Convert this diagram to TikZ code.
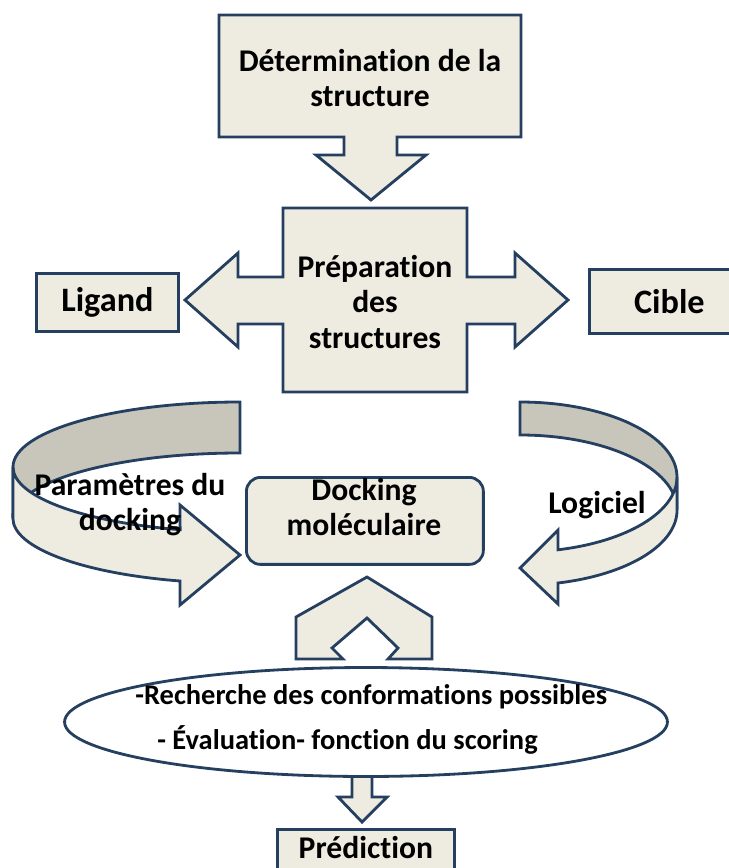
\documentclass[tikz,border=0pt]{standalone}
\usepackage{fontspec}
\setmainfont{Carlito}[Ligatures = NoCommon]
\usetikzlibrary{shapes.geometric}
\definecolor{boxfill}{RGB}{238,236,225}
\definecolor{boxline}{RGB}{36,63,96}
\definecolor{backfill}{RGB}{200,197,187}

\begin{document}
\begin{tikzpicture}[x = 0.02cm, y = 0.02cm,
    blk/.style = {draw = boxline, fill = boxfill, line width = 1.6pt},
    back/.style = {draw = boxline, fill = backfill, line width = 1.6pt},
    txt/.style = {font = \bfseries\fontsize{18}{20}\selectfont,
                  align = center, inner sep = 0pt},
    small/.style = {txt, font = \bfseries\fontsize{16.2}{19}\selectfont},
    boxnode/.style = {blk, font = \bfseries\fontsize{19.5}{21}\selectfont,
                      inner sep = 0pt, anchor = north west}]
  \useasboundingbox (0,0) rectangle (729,-868);

  % top box with its arrow
  \draw [blk] (219,-15) -- (521,-15) -- (521,-137) -- (397,-137)
    -- (397,-155) -- (426,-155) -- (371,-200) -- (316,-155) -- (344,-155)
    -- (344,-137) -- (219,-137) -- cycle;
  \node [txt] (determ) at (370,-78) {Détermination de la\\structure};

  % preparation, arrows to both sides
  \draw [blk] (283,-208) -- (467,-208) -- (467,-277) -- (515,-277)
    -- (515,-253) -- (568,-300) -- (515,-347) -- (515,-324) -- (467,-324)
    -- (467,-392) -- (283,-392) -- (283,-324) -- (238,-324) -- (238,-347)
    -- (185,-300) -- (238,-253) -- (238,-277) -- (283,-277) -- cycle;
  \node [txt] (prep) at (375,-302) {Préparation\\des\\structures};

  \node [boxnode, minimum width = 2.84cm, minimum height = 1.16cm]
    (ligand) at (35,-272) {Ligand};
  \node [boxnode, minimum width = 3.2cm, minimum height = 1.28cm,
         text width = 2.1cm, align = center]
    (cible) at (588,-268) {Cible};

  % curved arrow, left
  \draw [back] (240,-402) arc [start angle = 90, end angle = 180,
      x radius = 227, y radius = 65]
    -- (13,-518) arc [start angle = 180, end angle = 90,
      x radius = 227, y radius = 65] -- cycle;
  \draw [blk] (13,-467) arc [start angle = 180, end angle = 254.7,
      x radius = 227, y radius = 65]
    -- (180,-505) -- (240,-555) -- (180,-605) -- (180,-581)
    arc [start angle = 254.7, end angle = 180,
      x radius = 227, y radius = 65] -- cycle;

  % curved arrow, right
  \draw [back] (520,-402) arc [start angle = 90, end angle = 0,
      x radius = 157, y radius = 75]
    -- (677,-510) arc [start angle = 0, end angle = 90,
      x radius = 157, y radius = 75] -- cycle;
  \draw [blk] (677,-477) arc [start angle = 0, end angle = -76,
      x radius = 157, y radius = 75]
    -- (558,-530) -- (520,-568) -- (558,-604) -- (558,-583)
    arc [start angle = -76, end angle = 0,
      x radius = 157, y radius = 75] -- cycle;

  \node [txt] (param) at (130,-505) {Paramètres du\\docking};
  \node [txt] (logic) at (597,-505) {Logiciel};

  \node [blk, rounded corners = 8pt, minimum width = 4.74cm,
         minimum height = 1.74cm, anchor = north west]
    (dockbox) at (245,-476) {};
  \node [txt] (dock) at (364,-507) {Docking\\moléculaire};

  % chevron under the docking box
  \draw [blk] (296,-659) -- (343,-659) -- (332,-648) -- (367,-618)
    -- (398,-648) -- (388,-659) -- (432,-659) -- (432,-617)
    -- (367,-577) -- (296,-617) -- cycle;

  % small arrow to the prediction
  \draw [blk] (352,-768) -- (372,-768) -- (372,-797) -- (387,-797)
    -- (362,-822) -- (338,-797) -- (352,-797) -- cycle;

  \node [ellipse, draw = boxline, fill = white, line width = 1.6pt,
         minimum width = 12.06cm, minimum height = 2.18cm]
    (ell) at (366,-722) {};
  \node [small, anchor = west] (search) at (135,-697)
    {-Recherche des conformations possibles};
  \node [small, anchor = west] (score) at (157,-740)
    {- Évaluation- fonction du scoring};

  \node [boxnode, font = \bfseries\fontsize{18}{20}\selectfont,
         minimum width = 3.54cm, minimum height = 1.2cm,
         text width = 3.54cm, align = center, text depth = 0.5cm]
    (predict) at (276,-828) {Prédiction};
\end{tikzpicture}
\end{document}
